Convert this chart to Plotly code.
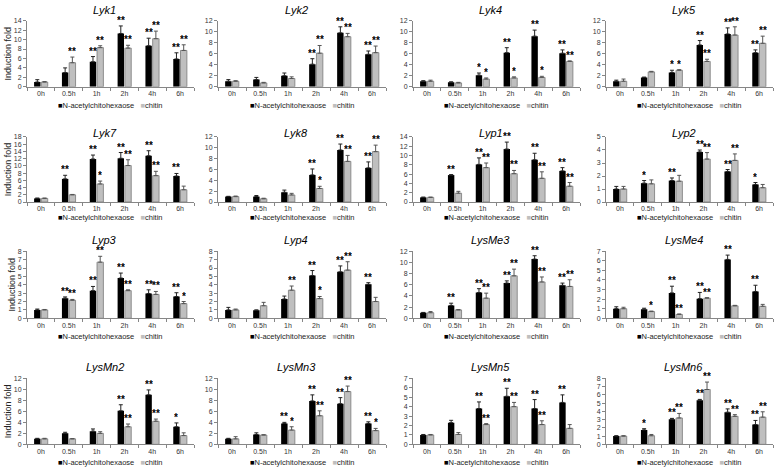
import plotly.graph_objects as go

CATEGORIES = ["0h", "0.5h", "1h", "2h", "4h", "6h"]
SERIES = ["N-acetylchitohexaose", "chitin"]
GENES = ["Lyk1", "Lyk2", "Lyk4", "Lyk5", "Lyk7", "Lyk8", "Lyp1", "Lyp2",
         "Lyp3", "Lyp4", "LysMe3", "LysMe4", "LysMn2", "LysMn3", "LysMn5", "LysMn6"]
Y_MAX = [14, 12, 12, 12, 18, 12, 14, 5, 8, 8, 12, 7, 12, 12, 7, 8]
Y_DTICK = [2, 2, 2, 2, 2, 2, 2, 1, 1, 1, 2, 1, 2, 2, 1, 1]

NAG_MEAN = [
    [1.0, 3.0, 5.3, 11.3, 8.7, 5.9],
    [1.0, 1.3, 2.0, 4.1, 9.8, 5.9],
    [1.0, 0.8, 2.1, 6.2, 9.2, 6.1],
    [1.0, 1.7, 2.6, 7.6, 9.6, 6.2],
    [1.0, 6.4, 11.9, 12.1, 12.8, 7.2],
    [1.0, 1.0, 1.8, 5.0, 9.6, 6.3],
    [1.0, 5.8, 8.1, 11.4, 9.1, 6.7],
    [1.0, 1.45, 1.65, 3.85, 2.35, 1.35],
    [1.0, 2.4, 3.3, 4.8, 2.95, 2.6],
    [1.0, 0.95, 2.3, 5.1, 5.55, 4.05],
    [1.0, 2.3, 4.6, 6.3, 10.6, 5.9],
    [1.0, 0.95, 2.65, 2.05, 6.15, 2.8],
    [1.0, 2.0, 2.4, 6.1, 9.0, 3.2],
    [1.0, 1.8, 3.8, 7.9, 7.4, 3.8],
    [1.0, 2.3, 3.8, 5.1, 3.8, 4.45],
    [1.0, 1.75, 3.05, 5.35, 3.9, 2.4],
]
NAG_ERR = [
    [0.5, 1.0, 1.1, 1.6, 1.6, 1.3],
    [0.3, 0.4, 0.5, 1.0, 1.1, 0.6],
    [0.1, 0.1, 0.4, 0.9, 1.1, 0.6],
    [0.2, 0.05, 0.4, 0.8, 1.1, 0.5],
    [0.1, 1.0, 1.1, 1.6, 1.4, 0.7],
    [0.05, 0.2, 0.4, 1.1, 1.1, 1.1],
    [0.05, 0.1, 1.4, 1.5, 1.4, 0.7],
    [0.2, 0.2, 0.2, 0.15, 0.15, 0.15],
    [0.1, 0.15, 0.5, 0.6, 0.45, 0.45],
    [0.3, 0.05, 0.35, 0.6, 0.7, 0.2],
    [0.05, 0.4, 0.7, 0.4, 0.6, 0.4],
    [0.2, 0.1, 0.7, 0.65, 0.45, 0.65],
    [0.1, 0.2, 0.4, 1.1, 0.9, 0.7],
    [0.1, 0.3, 0.2, 1.1, 1.1, 0.3],
    [0.05, 0.25, 0.7, 0.85, 0.95, 0.8],
    [0.05, 0.15, 0.1, 0.1, 0.4, 0.5],
]
NAG_SIG = [
    ["", "", "**", "**", "**", "**"],
    ["", "", "", "**", "**", "**"],
    ["", "", "*", "**", "**", "**"],
    ["", "", "*", "**", "**", "**"],
    ["", "**", "**", "**", "**", "**"],
    ["", "", "", "**", "**", "**"],
    ["", "**", "**", "**", "**", "**"],
    ["", "*", "**", "**", "**", "*"],
    ["", "**", "**", "**", "**", "**"],
    ["", "", "", "**", "**", "**"],
    ["", "**", "**", "**", "**", "**"],
    ["", "", "**", "**", "**", "**"],
    ["", "", "", "**", "**", "*"],
    ["", "", "**", "**", "**", "**"],
    ["", "", "**", "**", "**", "**"],
    ["", "*", "**", "**", "**", "**"],
]
CHI_MEAN = [
    [1.0, 5.1, 8.3, 8.2, 10.2, 7.7],
    [1.0, 0.7, 1.5, 6.1, 9.1, 6.2],
    [1.0, 0.7, 1.4, 1.6, 1.7, 4.6],
    [1.0, 2.7, 3.0, 4.6, 9.4, 7.9],
    [1.0, 2.0, 5.0, 10.1, 7.3, 3.4],
    [1.0, 0.6, 1.3, 2.5, 7.5, 9.3],
    [1.0, 1.9, 7.4, 6.1, 5.1, 3.4],
    [1.0, 1.4, 1.6, 3.3, 3.2, 1.1],
    [1.0, 2.15, 6.7, 3.3, 2.85, 1.75],
    [1.0, 1.5, 3.35, 2.35, 5.75, 2.0],
    [1.0, 1.5, 3.6, 7.6, 6.5, 5.7],
    [1.0, 0.7, 0.4, 2.1, 1.3, 1.25],
    [1.0, 1.0, 2.0, 3.2, 4.2, 1.6],
    [1.0, 1.7, 2.6, 5.2, 9.6, 2.5],
    [1.0, 1.05, 2.1, 4.0, 2.1, 1.7],
    [1.0, 1.05, 3.2, 6.65, 3.4, 3.3],
]
CHI_ERR = [
    [0.1, 1.2, 0.4, 0.6, 1.6, 1.2],
    [0.1, 0.1, 0.3, 1.4, 0.6, 1.2],
    [0.2, 0.1, 0.2, 0.2, 0.2, 0.1],
    [0.4, 0.1, 0.1, 0.4, 1.5, 1.3],
    [0.1, 0.1, 0.8, 1.6, 1.2, 1.0],
    [0.1, 0.1, 0.3, 0.4, 1.1, 1.2],
    [0.05, 0.4, 1.0, 0.7, 1.4, 0.8],
    [0.2, 0.3, 0.45, 0.5, 0.5, 0.25],
    [0.05, 0.1, 0.7, 0.1, 0.35, 0.25],
    [0.1, 0.4, 0.5, 0.25, 1.0, 0.5],
    [0.2, 0.05, 0.9, 1.2, 0.9, 1.2],
    [0.15, 0.05, 0.05, 0.05, 0.05, 0.2],
    [0.1, 0.05, 0.3, 0.5, 0.4, 0.5],
    [0.4, 0.05, 0.6, 0.9, 1.0, 0.4],
    [0.05, 0.2, 0.1, 0.45, 0.4, 0.4],
    [0.05, 0.15, 0.55, 0.9, 0.2, 0.65],
]
CHI_SIG = [
    ["", "**", "**", "**", "**", "**"],
    ["", "", "", "**", "**", "**"],
    ["", "", "*", "*", "*", "**"],
    ["", "", "*", "**", "**", "**"],
    ["", "", "*", "**", "**", ""],
    ["", "", "", "*", "**", "**"],
    ["", "", "**", "**", "**", "**"],
    ["", "", "", "**", "**", ""],
    ["", "**", "**", "**", "**", "*"],
    ["", "", "**", "*", "**", ""],
    ["", "", "**", "**", "**", "**"],
    ["", "*", "**", "**", "", ""],
    ["", "", "", "**", "**", ""],
    ["", "", "*", "**", "**", "*"],
    ["", "", "**", "**", "**", ""],
    ["", "", "**", "**", "**", "**"],
]

# ---- layout geometry (pixels in a 778 x 472 canvas) ----
W, H = 778, 472
COL_X = [(27, 194), (218, 386), (413, 580), (606, 773)]
ROW_Y = [(17, 84), (135, 201), (251, 319), (380, 447)]
TITLE_Y = [6, 131, 240, 368]
TITLE_DX = -6
LEGEND_Y = [103, 217, 338, 465]

FONT = "Liberation Sans, Arial, sans-serif"
AXIS_COLOR = "#868686"
BAR_W = 0.23
OFF_N, OFF_C = -0.245, 0.015

fig = go.Figure()
annotations = []
idx = list(range(len(CATEGORIES)))

for k, gene in enumerate(GENES):
    n = k + 1
    xa = "x" if n == 1 else f"x{n}"
    ya = "y" if n == 1 else f"y{n}"
    col = k % 4
    row = k // 4
    x0, x1 = COL_X[col]
    ytop, yzero = ROW_Y[row]

    fig.add_trace(go.Bar(
        x=idx, y=NAG_MEAN[k], name=SERIES[0], xaxis=xa, yaxis=ya,
        offset=OFF_N, width=BAR_W, marker=dict(color="#000000", line=dict(width=0)),
        error_y=dict(type="data", symmetric=False, array=NAG_ERR[k],
                     arrayminus=[0] * len(idx), color="#222222", thickness=1, width=2),
        showlegend=False, cliponaxis=False,
    ))
    fig.add_trace(go.Bar(
        x=idx, y=CHI_MEAN[k], name=SERIES[1], xaxis=xa, yaxis=ya,
        offset=OFF_C, width=BAR_W,
        marker=dict(color="#bfbfbf", line=dict(color="#7a7a7a", width=0.8)),
        error_y=dict(type="data", symmetric=False, array=CHI_ERR[k],
                     arrayminus=[0] * len(idx), color="#555555", thickness=1, width=2),
        showlegend=False, cliponaxis=False,
    ))

    xdom = [x0 / W, x1 / W]
    ydom = [1 - yzero / H, 1 - ytop / H]
    xaxis = dict(
        domain=xdom, anchor=ya, range=[-0.5, len(idx) - 0.5],
        tickmode="array", tickvals=idx, ticktext=CATEGORIES, ticks="",
        minor=dict(tickmode="linear", tick0=-0.5, dtick=1, ticks="outside",
                   ticklen=3, tickcolor=AXIS_COLOR, tickwidth=1),
        showline=True, linecolor=AXIS_COLOR, linewidth=1, showgrid=False,
        zeroline=False, tickfont=dict(family=FONT, size=7, color="#333333"),
        fixedrange=True,
    )
    yaxis = dict(
        domain=ydom, anchor=xa, range=[0, Y_MAX[k]], dtick=Y_DTICK[k], tick0=0,
        ticks="outside", ticklen=3, tickcolor=AXIS_COLOR, showline=True,
        linecolor=AXIS_COLOR, linewidth=1, showgrid=False, zeroline=False,
        tickfont=dict(family=FONT, size=7, color="#333333"), fixedrange=True,
    )
    if col == 0:
        yaxis["title"] = dict(text="Induction fold",
                              font=dict(family=FONT, size=9, color="#222222"), standoff=0)
    fig.layout[("xaxis" if n == 1 else f"xaxis{n}")] = xaxis
    fig.layout[("yaxis" if n == 1 else f"yaxis{n}")] = yaxis

    # gene title
    annotations.append(dict(
        x=((x0 + x1) / 2 + TITLE_DX) / W, y=1 - TITLE_Y[row] / H,
        xref="paper", yref="paper", text=f"<i>{gene}</i>", showarrow=False,
        font=dict(family=FONT, size=11, color="#000000"), xanchor="center", yanchor="middle",
    ))
    # legend row
    annotations.append(dict(
        x=(x0 + x1) / 2 / W, y=1 - LEGEND_Y[row] / H, xref="paper", yref="paper",
        text=('<span style="color:#000000">■</span>' + SERIES[0] +
              '   <span style="color:#bfbfbf">■</span>' + SERIES[1]),
        showarrow=False, font=dict(family=FONT, size=7.5, color="#222222"),
        xanchor="center", yanchor="middle",
    ))
    # significance marks
    for i in idx:
        for mean, err, sig, off in ((NAG_MEAN[k], NAG_ERR[k], NAG_SIG[k], OFF_N),
                                    (CHI_MEAN[k], CHI_ERR[k], CHI_SIG[k], OFF_C)):
            if sig[i]:
                annotations.append(dict(
                    x=i + off + BAR_W / 2, y=mean[i] + err[i], xref=xa, yref=ya,
                    text=sig[i], showarrow=False, xanchor="center", yanchor="bottom",
                    yshift=-2, font=dict(family=FONT, size=10, color="#000000", weight="bold"),
                ))

fig.update_layout(
    width=W, height=H, margin=dict(l=0, r=0, t=0, b=0),
    paper_bgcolor="white", plot_bgcolor="white", barmode="overlay",
    annotations=annotations, showlegend=False,
)
POST = ("document.body.style.margin='0px';document.body.style.overflow='hidden';"
        "var s=document.createElement('style');"
        "s.textContent='.main-svg text{opacity:0.99}';document.head.appendChild(s);")
fig.write_html("out.html", config={"displayModeBar": False}, post_script=POST)
